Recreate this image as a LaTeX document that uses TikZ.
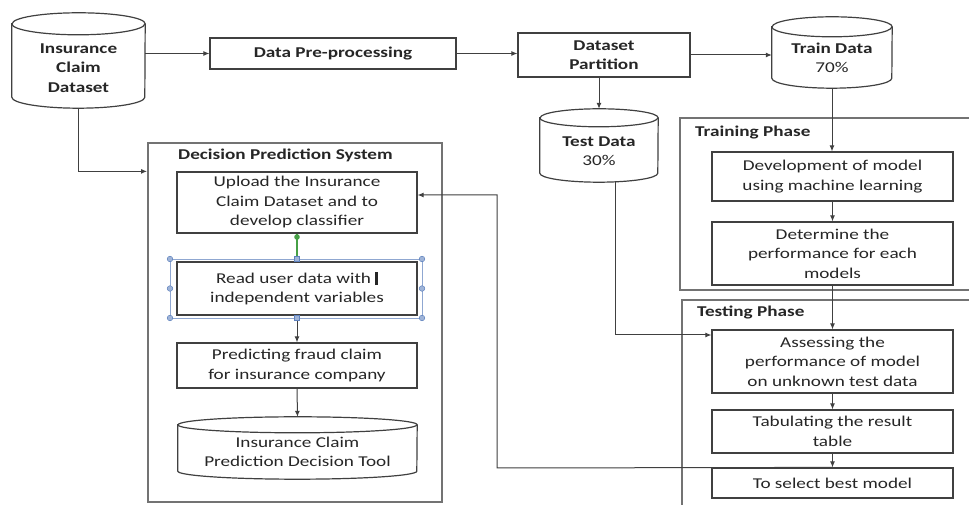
\documentclass[tikz,border=0pt]{standalone}
\usepackage{fontspec}
\setmainfont{Carlito}[FakeStretch=1.28]
\usetikzlibrary{arrows.meta,calc}
\newcommand\fs{\fontsize{15}{19.5}\selectfont}
\definecolor{handleblue}{RGB}{95,130,190}
\definecolor{handlegreen}{RGB}{70,160,70}
\tikzset{
  box/.style={draw=black!75, line width=1.2pt, rectangle, inner sep=2pt, align=center, text=black!85, font=\fs},
  grp/.style={draw=black!55, line width=2pt, rectangle, inner sep=0pt},
  cylbox/.style={rectangle, inner sep=0pt},
  cylline/.style={draw=black!75, line width=1.2pt},
  txt/.style={align=center, text=black!85, font=\fs, inner sep=0pt},
  ttl/.style={anchor=west, text=black!85, font=\fs\bfseries, inner sep=0pt},
  arr/.style={draw=black!75, line width=1pt, -{Latex[length=6pt,width=5pt]}},
  selframe/.style={draw=handleblue!70, line width=0.6pt},
  handle/.style={draw=handleblue, fill=handleblue!60, line width=0.5pt},
}
\newcommand\dbcyl[6]{%
  \node[cylbox, minimum width=#4pt, minimum height=#5pt] (#1) at (#2,#3) {};
  \draw[cylline] ($(#1.north west)+(0,-#6)$) -- ($(#1.south west)+(0,#6)$)
    arc[start angle=180, end angle=360, x radius=#4/2, y radius=#6]
    -- ($(#1.north east)+(0,-#6)$)
    arc[start angle=0, end angle=180, x radius=#4/2, y radius=#6] -- cycle;
  \draw[cylline] ($(#1.north west)+(0,-#6)$)
    arc[start angle=180, end angle=360, x radius=#4/2, y radius=#6];
}
\begin{document}
\begin{tikzpicture}[x=1pt,y=1pt]
\useasboundingbox (0,0) rectangle (969,505);
\fill[white] (0,0) rectangle (969,505);

% group frames
\begin{scope}
  \clip (0,0) rectangle (969,505);
  \node[grp, minimum width=300pt, minimum height=172pt] (trn) at (830,301) {};
  \node[grp, minimum width=298pt, minimum height=220pt] (tst) at (831,95) {};
\end{scope}
\node[grp, minimum width=294pt, minimum height=359pt] (dec) at (295,182.5) {};

\node[ttl] (decT) at (178,350) {Decision Prediction System};
\node[ttl] (trnT) at (695,372) {Training Phase};
\node[ttl] (tstT) at (697,192) {Testing Phase};

% cylinders
\dbcyl{icd}{78.5}{444.5}{133}{95}{11}
\node[txt, font=\fs\bfseries] (icdT) at (78.5,437) {Insurance\\Claim\\Dataset};
\dbcyl{train}{832}{452.5}{120}{71}{10}
\node[txt] (trainT) at (832,447) {\textbf{Train Data}\\70\%};
\dbcyl{test}{599}{359.5}{118}{73}{9}
\node[txt] (testT) at (599,354) {\textbf{Test Data}\\30\%};
\dbcyl{tool}{297.5}{57}{239}{62}{8}
\node[txt] (toolT) at (297.5,53) {Insurance Claim\\Prediction Decision Tool};

% top row boxes
\node[box, font=\fs\bfseries, minimum width=246pt, minimum height=31pt] (pre) at (333,451.5) {Data Pre-processing};
\node[box, font=\fs\bfseries, minimum width=172pt, minimum height=44pt] (dp) at (604,450) {Dataset\\Partition};

% decision system boxes
\node[box, minimum width=240pt, minimum height=61pt] (up) at (297,302.5) {Upload the Insurance\\Claim Dataset and to\\develop classifier};
\node[box, minimum width=240pt, minimum height=53pt] (read) at (297,216.5) {Read user data with \rule[-2pt]{2.5pt}{13pt}\\independent variables};
\node[box, minimum width=240pt, minimum height=45pt] (pred) at (297,139.5) {Predicting fraud claim\\for insurance company};

% training boxes
\node[box, minimum width=241pt, minimum height=49pt] (dev) at (832.5,328.5) {Development of model\\using machine learning};
\node[box, minimum width=241pt, minimum height=63pt] (det) at (832.5,251.5) {Determine the\\performance for each\\models};

% testing boxes
\node[box, minimum width=241pt, minimum height=63pt] (ass) at (832.5,143.5) {Assessing the\\performance of model\\on unknown test data};
\node[box, minimum width=241pt, minimum height=43pt] (tab) at (832.5,73.5) {Tabulating the result\\table};
\node[box, minimum width=241pt, minimum height=30pt] (sel) at (832.5,22) {To select best model};

% connectors
\draw[arr] (icd.east |- pre.west) -- (pre.west);
\draw[arr] (pre.east) -- (pre.east -| dp.west);
\draw[arr] (dp.east) -- (dp.east -| train.west);
\draw[arr] (test.north |- dp.south) -- (test.north);
\draw[arr] (icd.south) |- (dec.west |- up.north);
\draw[arr] (train.south) -- (train.south |- dev.north);
\draw[arr] (dev.south) -- (det.north);
\draw[arr] (det.south) -- (ass.north);
\draw[arr] (ass.south) -- (tab.north);
\draw[arr] (tab.south) -- (sel.north);
\draw[arr] ([xshift=16pt]test.south) |- ([yshift=26.5pt]ass.west);
\coordinate (rb) at (497,37);
\draw[arr] (sel.north) -- (rb) |- ([yshift=7.5pt]up.east);
\draw[arr] (read.south) -- (pred.north);
\draw[arr] (pred.south) -- (tool.north);

% selection handles around the selected box
\draw[handlegreen, line width=1.2pt] (read.north) -- (up.south);
\fill[handlegreen] (297,268) circle (2.8pt);
\draw[selframe] (170,246) rectangle (422,187);
\foreach \p in {(170,246),(422,246),(170,187),(422,187),(170,216.5),(422,216.5)}
  \draw[handle] \p circle (2.8pt);
\foreach \p in {(297,246),(297,187)}
  \draw[handle] \p ++(-2.6pt,-2.6pt) rectangle ++(5.2pt,5.2pt);
\end{tikzpicture}
\end{document}
